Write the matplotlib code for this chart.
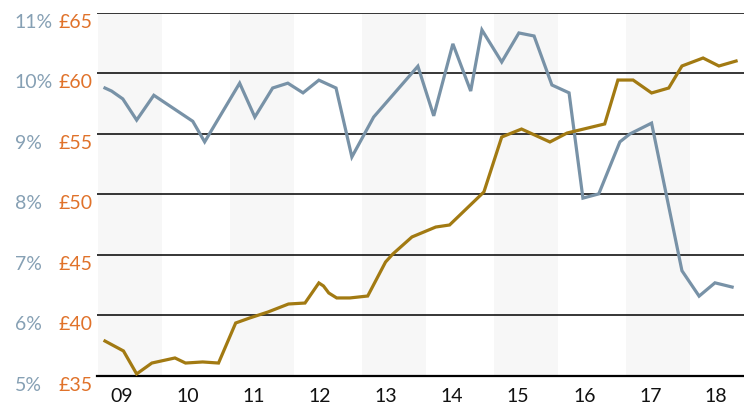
import matplotlib
matplotlib.use("Agg")
import matplotlib.pyplot as plt
import numpy as np

# blue series: yield (%)
yield_t = [2009.11, 2009.21, 2009.38, 2009.59, 2009.85, 2010.44, 2010.62,
           2011.15, 2011.38, 2011.65, 2011.88, 2012.11, 2012.35, 2012.61,
           2012.85, 2013.18, 2013.85, 2014.09, 2014.38, 2014.65, 2014.82,
           2015.12, 2015.38, 2015.61, 2015.88, 2016.14, 2016.35, 2016.59,
           2016.91, 2017.06, 2017.39, 2017.85, 2018.11, 2018.35, 2018.61]
yield_pct = [9.76, 9.71, 9.58, 9.23, 9.64, 9.21, 8.87,
             9.84, 9.28, 9.76, 9.84, 9.68, 9.89, 9.76,
             8.62, 9.28, 10.12, 9.30, 10.49, 9.71, 10.72,
             10.19, 10.67, 10.62, 9.81, 9.68, 7.94, 8.01,
             8.87, 9.00, 9.18, 6.74, 6.32, 6.54, 6.47]

# gold series: price (GBP)
price_t = [2009.11, 2009.39, 2009.59, 2009.82, 2010.17, 2010.33, 2010.59,
           2010.83, 2011.09, 2011.30, 2011.58, 2011.89, 2012.14, 2012.35,
           2012.42, 2012.50, 2012.62, 2012.82, 2013.09, 2013.36, 2013.47,
           2013.76, 2014.12, 2014.33, 2014.85, 2015.12, 2015.42, 2015.85,
           2016.11, 2016.68, 2016.88, 2017.11, 2017.39, 2017.65, 2017.85,
           2018.17, 2018.41, 2018.67]
price_gbp = [37.89, 37.07, 35.17, 36.07, 36.49, 36.07, 36.16,
             36.07, 39.38, 39.79, 40.29, 40.95, 41.03, 42.69,
             42.44, 41.86, 41.45, 41.45, 41.61, 44.42, 45.08,
             46.49, 47.31, 47.48, 50.21, 54.75, 55.41, 54.34,
             55.08, 55.83, 59.46, 59.46, 58.39, 58.80, 60.62,
             61.28, 60.62, 61.03]

years = list(range(2009, 2019))
year_labels = ["09", "10", "11", "12", "13", "14", "15", "16", "17", "18"]
pct_ticks = [5, 6, 7, 8, 9, 10, 11]
pct_labels = ["5%", "6%", "7%", "8%", "9%", "10%", "11%"]
gbp_ticks = [35, 40, 45, 50, 55, 60, 65]
gbp_labels = ["£35", "£40", "£45", "£50", "£55", "£60", "£65"]

BLUE = "#7892a7"
BLUE_TXT = "#86a0b4"
GOLD = "#a27a12"
ORANGE = "#e0722a"


def main():
    plt.rcParams["font.family"] = ["Lato", "DejaVu Sans"]
    fig = plt.figure(figsize=(7.44, 4.14), dpi=100)
    ax = fig.add_axes([0.130, 0.0894, 0.870, 0.8768])
    ax2 = ax.twinx()

    # alternate year shading
    for y in years[::2]:
        ax.axvspan(y, y + 0.97, color="#f7f7f7", lw=0, zorder=0)

    ax.plot(yield_t, yield_pct, color=BLUE, lw=2.3, zorder=3,
            solid_joinstyle="miter")
    ax2.plot(price_t, price_gbp, color=GOLD, lw=2.3, zorder=3,
             solid_joinstyle="miter")

    ax.set_xlim(2008.985, 2018.79)
    ax.set_ylim(5, 11)
    ax2.set_ylim(35, 65)

    ax.grid(axis="y", color="black", lw=1.1, zorder=1)
    ax.set_axisbelow(True)
    for a in (ax, ax2):
        for s in a.spines.values():
            s.set_visible(False)
    ax.spines["bottom"].set_visible(True)
    ax.spines["bottom"].set_linewidth(1.6)

    ax.set_xticks(np.array(years) + 0.37, year_labels)
    ax.tick_params(axis="x", length=0, pad=8, labelsize=14, labelcolor="#111111")

    ax.set_yticks(pct_ticks, pct_labels)
    ax.tick_params(axis="y", length=0, pad=59, labelsize=14, labelcolor=BLUE_TXT)
    for lbl in ax.get_yticklabels():
        lbl.set_ha("left")
        lbl.set_va("top")

    ax2.yaxis.set_ticks_position("left")
    ax2.set_yticks(gbp_ticks, gbp_labels)
    ax2.tick_params(axis="y", length=0, pad=3, labelsize=14, labelcolor=ORANGE)
    for lbl in ax2.get_yticklabels():
        lbl.set_va("top")

    plt.savefig("out.png", dpi=100)


if __name__ == "__main__":
    main()
